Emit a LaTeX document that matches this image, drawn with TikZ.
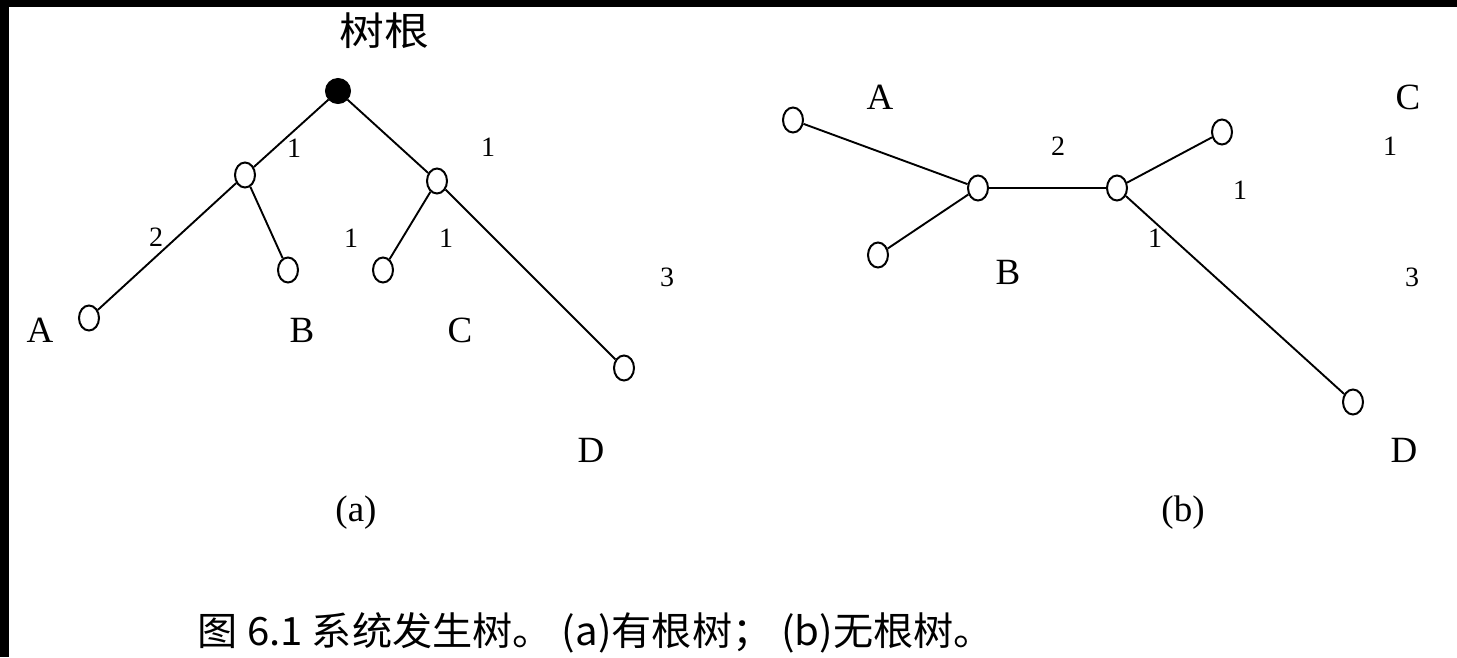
\documentclass[tikz,border=0pt]{standalone}
\usepackage{fontspec}
\setmainfont{Liberation Serif}
\newfontfamily\cjk{Noto Sans CJK SC}
\usetikzlibrary{shapes.geometric}
\tikzset{
  leaf/.style={ellipse,draw,line width=2pt,minimum width=20pt,minimum height=25pt,inner sep=0pt,fill=white},
  rootdot/.style={circle,fill=black,draw,line width=1pt,minimum size=25pt,inner sep=0pt},
  edge/.style={line width=1.9pt},
  letter/.style={font=\fontsize{37}{37}\selectfont,inner sep=0pt},
  num/.style={font=\fontsize{28}{28}\selectfont,inner sep=0pt},
  cn/.style={font=\cjk\fontsize{39}{39}\selectfont,inner sep=0pt}
}
\begin{document}
\begin{tikzpicture}[x=1pt,y=-1pt]
\useasboundingbox (0,0) rectangle (1457,657);
\fill[white] (0,0) rectangle (1457,657);
\fill[black] (0,0) rectangle (1457,7);
\fill[black] (0,0) rectangle (9,657);
% (a) rooted tree
\node[rootdot] (r) at (338,91) {};
\node[leaf] (l1) at (245,175) {};
\node[leaf] (r1) at (437,181) {};
\node[leaf] (la) at (89,318) {};
\node[leaf] (lb) at (288,270) {};
\node[leaf] (lc) at (383,270) {};
\node[leaf] (ld) at (624,368) {};
\draw[edge] (r) -- (l1);
\draw[edge] (r) -- (r1);
\draw[edge] (l1) -- (la);
\draw[edge] (l1) -- (lb);
\draw[edge] (r1) -- (lc);
\draw[edge] (r1) -- (ld);
\node[cn,xscale=1.15] (root) at (384,31) {树根};
\node[num] (n1) at (294,148) {1};
\node[num] (n2) at (488,147) {1};
\node[num] (n3) at (156,237) {2};
\node[num] (n4) at (351,238) {1};
\node[num] (n5) at (446,238) {1};
\node[num] (n6) at (667,277) {3};
\node[letter] (ta) at (40,330) {A};
\node[letter] (tb) at (302,330) {B};
\node[letter] (tc) at (460,330) {C};
\node[letter] (td) at (591,450) {D};
\node[letter] (sa) at (356,513) {(a)};
% (b) unrooted tree
\node[leaf] (ba) at (793,120) {};
\node[leaf] (bb) at (978,188) {};
\node[leaf] (bl) at (878,255) {};
\node[leaf] (bc) at (1117,188) {};
\node[leaf] (bcc) at (1222,132) {};
\node[leaf] (bd) at (1353,402) {};
\draw[edge] (ba) -- (bb);
\draw[edge] (bl) -- (bb);
\draw[edge] (bb) -- (bc);
\draw[edge] (bc) -- (bcc);
\draw[edge] (bc) -- (bd);
\node[letter] (uA) at (880,97) {A};
\node[num] (u2) at (1058,146) {2};
\node[letter] (uC) at (1408,97) {C};
\node[num] (u1a) at (1390,146) {1};
\node[num] (u1b) at (1240,190) {1};
\node[num] (u1c) at (1155,238) {1};
\node[letter] (uB) at (1008,272) {B};
\node[num] (u3) at (1412,277) {3};
\node[letter] (uD) at (1404,450) {D};
\node[letter] (sb) at (1183,513) {(b)};
% caption
\node[cn,xscale=1.03] (cap) at (596,633) {图 6.1 系统发生树。 (a)有根树； (b)无根树。};
\end{tikzpicture}
\end{document}
